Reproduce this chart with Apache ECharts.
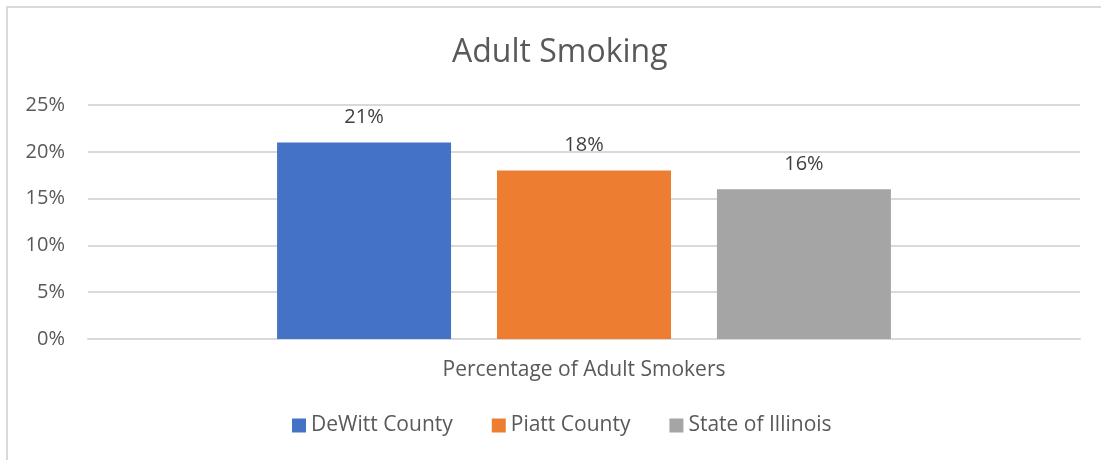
<!DOCTYPE html>
<html>
<head>
<meta charset="utf-8">
<script src="https://cdn.jsdelivr.net/npm/echarts@6/dist/echarts.min.js"></script>
<style>
  html, body { margin: 0; padding: 0; background: #fff; overflow: hidden; }
  #frame { position: absolute; left: 6px; top: 6px; width: 1200px; height: 600px;
           border-left: 2px solid #d9d9d9; border-top: 2px solid #d9d9d9; box-sizing: border-box; }
  #chart { position: absolute; left: 0; top: 0; width: 1101px; height: 460px; }
</style>
</head>
<body>
<div id="frame"></div>
<div id="chart"></div>
<script>
// Share of adults who smoke, by area
const categories = ['Percentage of Adult Smokers'];
const seriesNames = ['DeWitt County', 'Piatt County', 'State of Illinois'];
const dewitt = [21];
const piatt = [18];
const illinois = [16];
const yTicks = [0, 5, 10, 15, 20, 25];

const colors = ['#4472C4', '#ED7D31', '#A5A5A5'];
const fontFamily = '"Open Sans", "Noto Sans", sans-serif';

const chart = echarts.init(document.getElementById('chart'), null, { renderer: 'canvas' });

function barSeries(name, values, color) {
  return {
    name: name,
    type: 'bar',
    data: values,
    barWidth: 174,
    barGap: '26.4%',
    itemStyle: { color: color },
    label: {
      show: true,
      position: 'top',
      distance: 15,
      formatter: p => p.value + '%',
      color: '#404040',
      fontSize: 20,
      fontFamily: fontFamily
    }
  };
}

chart.setOption({
  animation: false,
  title: {
    text: 'Adult Smoking',
    left: 447,
    top: 32,
    textStyle: { color: '#595959', fontSize: 32, fontWeight: 'normal', fontFamily: fontFamily }
  },
  legend: {
    data: seriesNames,
    top: 410,
    left: 287,
    itemWidth: 14,
    itemHeight: 14,
    itemGap: 39,
    icon: 'rect',
    textStyle: { color: '#595959', fontSize: 21, fontFamily: fontFamily }
  },
  grid: { left: 88, right: 21, top: 105, height: 234, containLabel: false },
  xAxis: {
    type: 'category',
    data: categories,
    axisLine: { lineStyle: { color: '#d9d9d9', width: 2 } },
    axisTick: { show: false },
    axisLabel: { color: '#595959', fontSize: 21, margin: 21, fontFamily: fontFamily }
  },
  yAxis: {
    type: 'value',
    min: yTicks[0],
    max: yTicks[yTicks.length - 1],
    interval: 5,
    axisLine: { show: false },
    axisTick: { show: false },
    splitLine: { lineStyle: { color: '#d9d9d9', width: 2 } },
    axisLabel: { color: '#595959', fontSize: 20, margin: 23, fontFamily: fontFamily, formatter: v => v + '%' }
  },
  series: [
    barSeries(seriesNames[0], dewitt, colors[0]),
    barSeries(seriesNames[1], piatt, colors[1]),
    barSeries(seriesNames[2], illinois, colors[2])
  ]
});
</script>
</body>
</html>
